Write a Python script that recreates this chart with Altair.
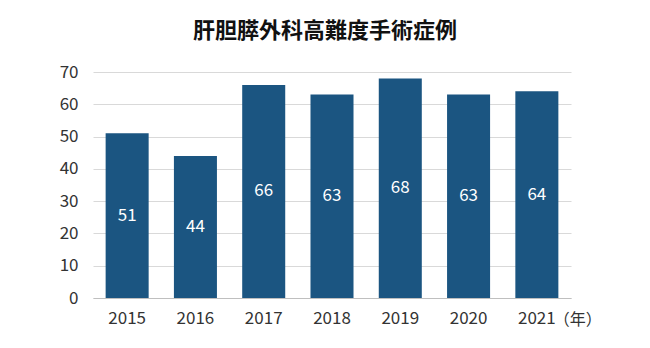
import altair as alt
import pandas as pd

years = ["2015", "2016", "2017", "2018", "2019", "2020", "2021"]
counts = [51, 44, 66, 63, 68, 63, 64]
title_text = "肝胆膵外科高難度手術症例"
y_ticks = [0, 10, 20, 30, 40, 50, 60, 70]

df = pd.DataFrame({"year": years, "count": counts})
df["half"] = df["count"] / 2

FONT = "Noto Sans CJK JP"
BAR = "#1b5581"

xaxis = alt.Axis(title=None, labelAngle=0, ticks=False, domainColor="#bfbfbf",
                 domainWidth=1, labelFont=FONT, labelFontSize=17, labelColor="#333333",
                 labelPadding=12, grid=False)
xscale = alt.Scale(paddingInner=0.37, paddingOuter=0.185)
yaxis = alt.Axis(title=None, values=y_ticks, domain=False, ticks=False,
                 labelOverlap=False, gridColor="#d9d9d9", labelFont=FONT,
                 labelFontSize=17, labelColor="#333333", labelPadding=15)
yscale = alt.Scale(domain=[0, 70], nice=False)

bars = alt.Chart(df).mark_bar(color=BAR).encode(
    x=alt.X("year:N", sort=years, scale=xscale, axis=xaxis),
    y=alt.Y("count:Q", scale=yscale, axis=yaxis),
)

labels = alt.Chart(df).mark_text(color="white", font=FONT, fontSize=17, baseline="middle").encode(
    x=alt.X("year:N", sort=years, scale=xscale, axis=xaxis),
    y=alt.Y("half:Q", scale=yscale, axis=yaxis),
    text=alt.Text("count:Q"),
)

unit = alt.Chart(pd.DataFrame({"year": ["2021"], "t": ["（年）"]})).mark_text(
    font=FONT, fontSize=16, color="#333333", align="left", baseline="middle", dx=17
).encode(
    x=alt.X("year:N", sort=years, scale=xscale, axis=xaxis),
    y=alt.value(248),
    text="t:N",
)

chart = (bars + labels + unit).properties(
    width=478, height=226,
    background="white",
    title=alt.TitleParams(title_text, font=FONT, fontSize=22, fontWeight="bold",
                          color="#111111", anchor="middle", offset=20, dx=-7),
    autosize=alt.AutoSizeParams(type="none"),
    padding={"left": 93, "top": 72, "right": 79, "bottom": 50},
).configure_view(stroke=None, strokeWidth=0)

chart.save("out.html", embed_options={"renderer": "svg", "actions": False})
